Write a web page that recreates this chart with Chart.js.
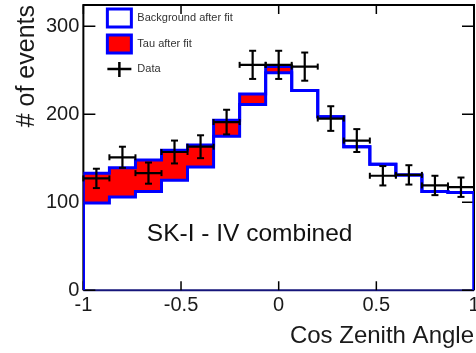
<!DOCTYPE html>
<html>
<head>
<meta charset="utf-8">
<title>Cos Zenith Angle</title>
<script src="https://cdn.jsdelivr.net/npm/chart.js@4.4.1/dist/chart.umd.min.js"></script>
<style>
  html, body { margin: 0; padding: 0; background: #fff; overflow: hidden; }
  #wrap { position: relative; width: 520px; height: 353px; }
</style>
</head>
<body>
<div id="wrap"><canvas id="zenithChart"></canvas></div>
<script>
// 15 bins en cos(zenith), de -1 a 1
const binEdges = [-1, -0.8667, -0.7333, -0.6, -0.4667, -0.3333, -0.2, -0.0667, 0.0667, 0.2, 0.3333, 0.4667, 0.6, 0.7333, 0.8667, 1];
const backgroundFit = [99, 106, 112, 125, 140, 175, 211, 247, 227, 197, 163, 143, 131, 112, 111];
const tauFit = [34, 33, 36, 34, 25, 18, 12, 7, 0, 0, 0, 0, 0, 0, 0];
const dataEvents = [127, 151, 133, 157, 163, 191, 256, 256, 254, 195, 170, 130, 131, 119, 117];
const dataErrors = [11, 12, 12, 13, 13, 14, 16, 16, 16, 14, 13, 11, 11, 11, 11];
const xTickLabels = [-1, -0.5, 0, 0.5, 1];
const yTickLabels = [0, 100, 200, 300];

const FONT = "'Liberation Sans', Arial, Helvetica, sans-serif";
const AZUL = '#0000ff';
const ROJO = '#ff0000';

// tau apilado sobre el fondo
const totalFit = backgroundFit.map((v, i) => v + tauFit[i]);

// puntos para dibujar el histograma como linea escalonada
function stepPoints(values) {
    const last = binEdges.length - 1;
    const pts = [{ x: binEdges[0], y: 0 }];
    values.forEach((v, i) => pts.push({ x: binEdges[i], y: v }));
    pts.push({ x: binEdges[last], y: values[values.length - 1] });
    pts.push({ x: binEdges[last], y: 0 });
    return pts;
}

// barras de error (verticales y horizontales), separadas con null
const errVert = [];
const errHoriz = [];
dataEvents.forEach((v, i) => {
    const c = (binEdges[i] + binEdges[i + 1]) / 2;
    errVert.push({ x: c, y: v - dataErrors[i] }, { x: c, y: v + dataErrors[i] }, { x: c, y: null });
    errHoriz.push({ x: binEdges[i], y: v }, { x: binEdges[i + 1], y: v }, { x: binEdges[i + 1], y: null });
});

function isLabelTick(value, list) {
    return list.some(t => Math.abs(t - value) < 1e-6);
}

// marco con ticks hacia adentro (estilo ROOT)
const marcoPlugin = {
    id: 'marco',
    beforeDatasetsDraw(chart) {
        const { ctx, chartArea: a, scales: { x, y } } = chart;
        ctx.save();
        ctx.lineWidth = 2;
        ctx.strokeStyle = '#000';
        ctx.beginPath();
        ctx.moveTo(a.left, a.bottom);
        ctx.lineTo(a.left, a.top);
        ctx.lineTo(a.right, a.top);
        ctx.lineTo(a.right, a.bottom);
        ctx.stroke();
        ctx.strokeStyle = '#15157a';
        ctx.beginPath();
        ctx.moveTo(a.left, a.bottom);
        ctx.lineTo(a.right, a.bottom);
        ctx.stroke();

        ctx.strokeStyle = '#000';
        ctx.lineWidth = 1.5;
        ctx.beginPath();
        x.ticks.forEach(t => {
            const px = x.getPixelForValue(t.value);
            const len = isLabelTick(t.value, xTickLabels) ? 9 : 5;
            ctx.moveTo(px, a.bottom);
            ctx.lineTo(px, a.bottom - len);
            ctx.moveTo(px, a.top);
            ctx.lineTo(px, a.top + len);
        });
        y.ticks.forEach(t => {
            const py = y.getPixelForValue(t.value);
            const len = isLabelTick(t.value, yTickLabels) ? 12 : 7;
            ctx.moveTo(a.left, py);
            ctx.lineTo(a.left + len, py);
            ctx.moveTo(a.right, py);
            ctx.lineTo(a.right - len, py);
        });
        ctx.stroke();
        ctx.restore();
    },
    afterDraw(chart) {
        const { ctx, chartArea: a, scales: { x, y } } = chart;
        const ds = chart.data.datasets;
        ctx.save();
        // leyenda dentro del area del grafico
        const bx = a.left + 24;
        ctx.lineWidth = 3;
        ctx.strokeStyle = AZUL;
        ctx.fillStyle = '#fff';
        ctx.fillRect(bx, a.top + 4, 24, 18);
        ctx.strokeRect(bx, a.top + 4, 24, 18);
        ctx.fillStyle = ROJO;
        ctx.fillRect(bx, a.top + 30, 24, 18);
        ctx.strokeRect(bx, a.top + 30, 24, 18);
        ctx.strokeStyle = '#000';
        ctx.lineWidth = 2.5;
        ctx.beginPath();
        ctx.moveTo(bx, a.top + 64);
        ctx.lineTo(bx + 24, a.top + 64);
        ctx.moveTo(bx + 12, a.top + 57);
        ctx.lineTo(bx + 12, a.top + 72);
        ctx.stroke();

        ctx.fillStyle = '#333';
        ctx.font = '11px ' + FONT;
        ctx.textAlign = 'left';
        ctx.textBaseline = 'middle';
        ctx.fillText(ds[0].label, bx + 30, a.top + 13);
        ctx.fillText(ds[1].label, bx + 30, a.top + 39);
        ctx.fillText(ds[2].label, bx + 30, a.top + 64);

        // texto de la muestra
        ctx.fillStyle = '#111';
        ctx.font = '24.5px ' + FONT;
        ctx.fillText('SK-I - IV combined', x.getPixelForValue(-0.675), y.getPixelForValue(64));
        ctx.restore();
    }
};

const ctxZenith = document.getElementById('zenithChart');
const chart = new Chart(ctxZenith, {
    type: 'line',
    data: {
        datasets: [{
            label: 'Background after fit',
            data: stepPoints(backgroundFit),
            stepped: 'before',
            borderColor: AZUL,
            borderWidth: 3,
            borderJoinStyle: 'miter',
            pointRadius: 0,
            fill: false,
            order: 1
        }, {
            label: 'Tau after fit',
            data: stepPoints(totalFit),
            stepped: 'before',
            borderColor: AZUL,
            borderWidth: 3,
            borderJoinStyle: 'miter',
            backgroundColor: ROJO,
            pointRadius: 0,
            fill: '-1',
            order: 2
        }, {
            label: 'Data',
            data: errVert,
            borderColor: '#000',
            borderWidth: 2.2,
            pointStyle: 'line',
            pointRadius: 3.5,
            pointBorderWidth: 2,
            pointBorderColor: '#000',
            spanGaps: false,
            fill: false,
            clip: false,
            order: 0
        }, {
            label: 'Data (x)',
            data: errHoriz,
            borderColor: '#000',
            borderWidth: 2.2,
            pointStyle: 'line',
            pointRotation: 90,
            pointRadius: 3,
            pointBorderWidth: 2,
            pointBorderColor: '#000',
            spanGaps: false,
            fill: false,
            clip: false,
            order: 0
        }]
    },
    options: {
        responsive: true,
        maintainAspectRatio: false,
        animation: false,
        events: [],
        layout: { autoPadding: false, padding: { left: 1, right: 46, top: 5, bottom: 0 } },
        plugins: {
            legend: { display: false },
            tooltip: { enabled: false }
        },
        scales: {
            x: {
                type: 'linear',
                min: -1,
                max: 1,
                offset: false,
                grid: { display: false, drawTicks: false },
                border: { display: false },
                ticks: {
                    stepSize: 0.1,
                    autoSkip: false,
                    maxRotation: 0,
                    padding: 3,
                    color: '#1a1a1a',
                    font: { family: FONT, size: 20 },
                    callback: (value) => isLabelTick(value, xTickLabels) ? String(Math.round(value * 10) / 10) : null
                },
                title: {
                    display: true,
                    text: 'Cos Zenith Angle',
                    align: 'end',
                    color: '#1a1a1a',
                    font: { family: FONT, size: 24 },
                    padding: { top: 2, bottom: 2 }
                }
            },
            y: {
                type: 'linear',
                min: 0,
                max: 324,
                grid: { display: false, drawTicks: false },
                border: { display: false },
                // sin espacio extra arriba: el marco empieza casi en el borde
                afterFit: (scale) => { scale.paddingTop = 0; },
                ticks: {
                    stepSize: 20,
                    autoSkip: false,
                    padding: 4,
                    color: '#1a1a1a',
                    font: { family: FONT, size: 20 },
                    callback: (value) => isLabelTick(value, yTickLabels) ? String(value) : null
                },
                title: {
                    display: true,
                    text: '# of events',
                    align: 'end',
                    color: '#1a1a1a',
                    font: { family: FONT, size: 25 },
                    padding: { top: 11, bottom: 0 }
                }
            }
        }
    },
    plugins: [marcoPlugin]
});
</script>
</body>
</html>
